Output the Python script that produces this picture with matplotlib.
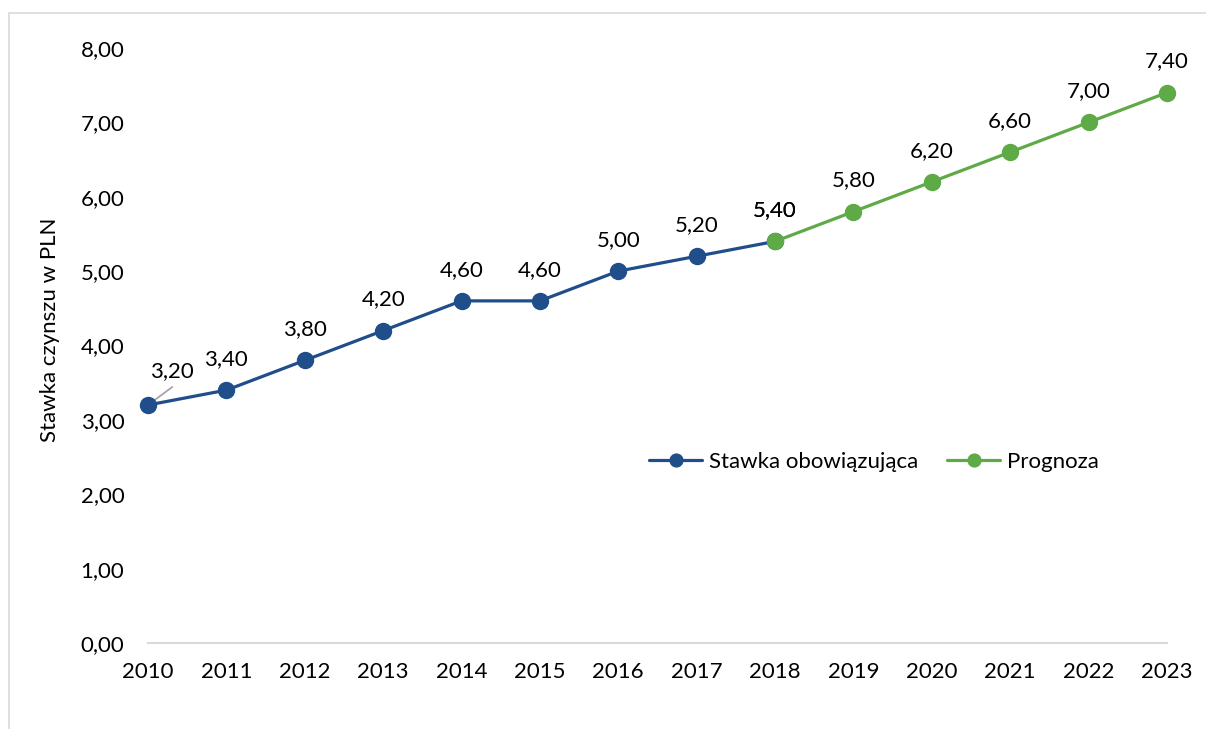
import matplotlib
matplotlib.use("Agg")
import matplotlib.pyplot as plt
from matplotlib.patches import Rectangle

years_actual = [2010, 2011, 2012, 2013, 2014, 2015, 2016, 2017, 2018]
rate_actual = [3.20, 3.40, 3.80, 4.20, 4.60, 4.60, 5.00, 5.20, 5.40]
years_forecast = [2018, 2019, 2020, 2021, 2022, 2023]
rate_forecast = [5.40, 5.80, 6.20, 6.60, 7.00, 7.40]
y_ticks = [0, 1, 2, 3, 4, 5, 6, 7, 8]
x_ticks = list(range(2010, 2024))

BLUE = "#1F4E8A"
GREEN = "#5DAA46"
FONT = "Lato"
FS = 16

def fmt(v):
    return f"{v:.2f}".replace(".", ",")

W, H = 1206, 729
fig = plt.figure(figsize=(W / 100, H / 100), dpi=100)
fig.patch.set_facecolor("white")

# chart border
fig.patches.append(Rectangle((9 / W, -0.1), 1.2, 1.1 - 13 / H, transform=fig.transFigure,
                             fill=False, edgecolor="#D9D9D9", linewidth=1.2))

ax = fig.add_axes([148 / W, 1 - 643 / H, (1167 - 148) / W, (643 - 48) / H])
ax.set_facecolor("none")

ax.plot(years_actual, rate_actual, color=BLUE, lw=2.3, marker="o", ms=11.5,
        label="Stawka obowiązująca", zorder=3, solid_capstyle="round", clip_on=False)
ax.plot(years_forecast, rate_forecast, color=GREEN, lw=2.3, marker="o", ms=11.5,
        label="Prognoza", zorder=4, solid_capstyle="round", clip_on=False)

for i, (x, y) in enumerate(zip(years_actual, rate_actual)):
    if i == 0:
        ax.annotate(fmt(y), xy=(x, y), xytext=(17.5, 24.5), textcoords="offset points",
                    ha="center", va="center", fontsize=FS, family=FONT)
        ax.annotate("", xy=(x, y), xytext=(17.5, 13), textcoords="offset points",
                    arrowprops=dict(arrowstyle="-", color="#A6A6A6", lw=1.3,
                                    shrinkA=0, shrinkB=1), zorder=2)
    else:
        ax.annotate(fmt(y), xy=(x, y), xytext=(0, 22.5), textcoords="offset points",
                    ha="center", va="center", fontsize=FS, family=FONT)
for x, y in zip(years_forecast, rate_forecast):
    ax.annotate(fmt(y), xy=(x, y), xytext=(0, 22.5), textcoords="offset points",
                ha="center", va="center", fontsize=FS, family=FONT)

ax.set_xlim(2010, 2023)
ax.set_ylim(0, 8)
ax.set_yticks(y_ticks)
ax.set_yticklabels([fmt(v) for v in y_ticks])
ax.set_xticks(x_ticks)
ax.set_xticklabels([str(v) for v in x_ticks])
ax.tick_params(axis="both", length=0, labelsize=FS)
ax.tick_params(axis="y", pad=17)
ax.tick_params(axis="x", pad=14)
for lbl in ax.get_xticklabels() + ax.get_yticklabels():
    lbl.set_family(FONT)

for s in ["top", "right", "left"]:
    ax.spines[s].set_visible(False)
ax.spines["bottom"].set_color("#D9D9D9")
ax.spines["bottom"].set_linewidth(1.5)

ax.set_ylabel("Stawka czynszu w PLN", fontsize=FS, family=FONT)
ax.yaxis.set_label_coords(-(148 - 60) / (1167 - 148), (643 - 330) / (643 - 48))

leg = ax.legend(loc="center", bbox_to_anchor=((874 - 148) / (1167 - 148), (643 - 462) / (643 - 48)),
                ncol=2, frameon=False, prop={"family": FONT, "size": FS},
                handlelength=2.4, handletextpad=0.3, columnspacing=1.3, markerscale=0.8)

fig.savefig("out.png", dpi=100)
